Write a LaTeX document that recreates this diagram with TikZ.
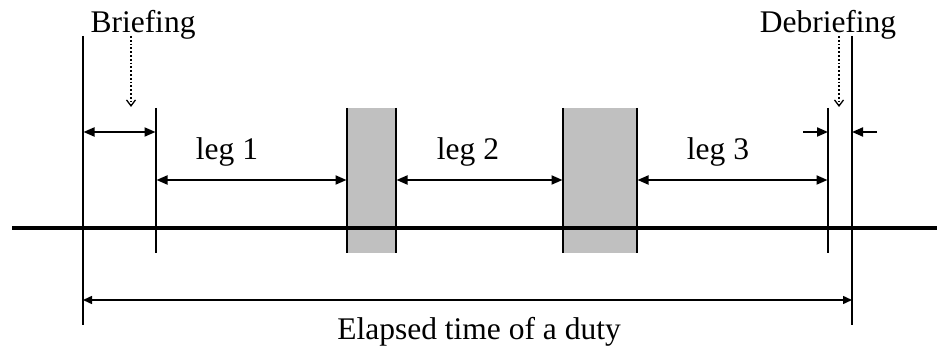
\documentclass[tikz,border=0pt]{standalone}
\usepackage{fontspec}
\setmainfont{Liberation Serif}
\usetikzlibrary{arrows.meta}
\definecolor{boxgray}{RGB}{192,192,192}
\tikzset{
  lbl/.style={anchor=base, inner sep=0pt, font=\fontsize{31.5}{36}\selectfont},
  vline/.style={line width=2pt},
  mainline/.style={line width=4pt},
  dimboth/.style={line width=2pt, {Triangle[length=11pt,width=9pt]}-{Triangle[length=11pt,width=9pt]}, shorten <=0.5pt, shorten >=0.5pt},
  dimend/.style={line width=2pt, -{Triangle[length=11pt,width=9pt]}},
  thinboth/.style={line width=1.5pt, {Triangle[length=9pt,width=8pt]}-{Triangle[length=9pt,width=8pt]}},
  pointer/.style={line width=1.8pt, dotted, -{Straight Barb[length=6pt,width=9pt,line width=1.3pt]}},
  grayfill/.style={fill=boxgray, draw=none}
}
\begin{document}
\begin{tikzpicture}[x=1pt,y=-1pt]
\useasboundingbox (0,0) rectangle (937,347);
% gray boxes
\fill[grayfill] (347,108) rectangle (396,253);
\fill[grayfill] (563,108) rectangle (637,253);
% vertical line end points
\coordinate (A1) at (83,36);   \coordinate (A2) at (83,325);
\coordinate (B1) at (156,108); \coordinate (B2) at (156,253);
\coordinate (C1) at (347,108); \coordinate (C2) at (347,253);
\coordinate (D1) at (396,108); \coordinate (D2) at (396,253);
\coordinate (E1) at (563,108); \coordinate (E2) at (563,253);
\coordinate (F1) at (637,108); \coordinate (F2) at (637,253);
\coordinate (G1) at (828,108); \coordinate (G2) at (828,253);
\coordinate (H1) at (852,36);  \coordinate (H2) at (852,325);
% main time line
\coordinate (M1) at (12,228); \coordinate (M2) at (937,228);
\draw[mainline] (M1) -- (M2);
\foreach \n in {A,B,C,D,E,F,G,H} \draw[vline] (\n1) -- (\n2);
% labels
\node[lbl] (brief) at (143,33) {Briefing};
\node[lbl] (debrief) at (828,33) {Debriefing};
\node[lbl] (leg1) at (227,160) {leg 1};
\node[lbl] (leg2) at (468,160) {leg 2};
\node[lbl] (leg3) at (718,160) {leg 3};
\node[lbl] (elapsed) at (479,339) {Elapsed time of a duty};
% dimension arrows
\coordinate (ba) at (83,132);  \coordinate (bb) at (156,132);
\draw[dimboth] (ba) -- (bb);
\coordinate (l1a) at (156,180); \coordinate (l1b) at (347,180);
\draw[dimboth] (l1a) -- (l1b);
\coordinate (l2a) at (396,180); \coordinate (l2b) at (563,180);
\draw[dimboth] (l2a) -- (l2b);
\coordinate (l3a) at (637,180); \coordinate (l3b) at (828,180);
\draw[dimboth] (l3a) -- (l3b);
\coordinate (da0) at (803,132); \coordinate (da1) at (828,132);
\draw[dimend] (da0) -- (da1);
\coordinate (db0) at (877,132); \coordinate (db1) at (852,132);
\draw[dimend] (db0) -- (db1);
\coordinate (ea) at (83,300); \coordinate (eb) at (852,300);
\draw[thinboth] (ea) -- (eb);
% dotted pointers
\coordinate (p1a) at (131,36); \coordinate (p1b) at (131,107);
\draw[pointer] (p1a) -- (p1b);
\coordinate (p2a) at (839,36); \coordinate (p2b) at (839,107);
\draw[pointer] (p2a) -- (p2b);
\end{tikzpicture}
\end{document}
